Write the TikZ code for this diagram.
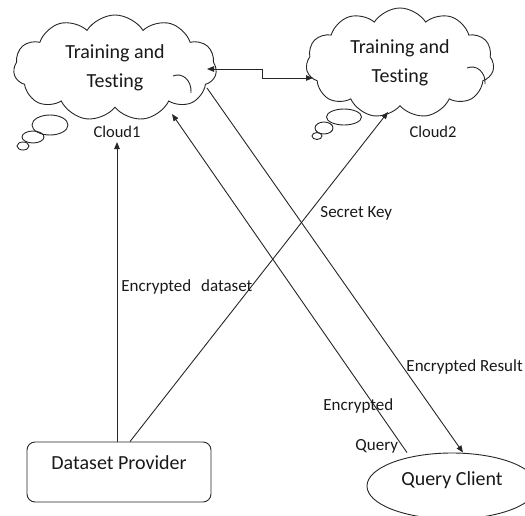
\documentclass[tikz,border=0pt]{standalone}
\usepackage{fontspec}
\setmainfont{Carlito}[Ligatures=NoCommon]
\usetikzlibrary{shapes.symbols,shapes.geometric,arrows.meta,calc}
\begin{document}
\begin{tikzpicture}[x=1pt,y=-1pt,
  line width=0.9pt, draw=black!85,
  arr/.style={-{Triangle[length=7pt,width=5.5pt]}},
  darr/.style={{Triangle[length=7pt,width=5.5pt]}-{Triangle[length=7pt,width=5.5pt]}},
  cloudnode/.style={cloud, draw, cloud puffs=11, cloud puff arc=115, cloud ignores aspect, inner sep=0pt, font=\fontsize{20}{29}\selectfont, align=center, text=black!90},
  bubble/.style={draw, ellipse, inner sep=0pt},
  innerarc/.style={draw, line width=0.9pt},
  lbl/.style={font=\fontsize{17}{20}\selectfont, inner sep=0pt, anchor=west, text=black!90},
  bigfont/.style={font=\fontsize{20}{24}\selectfont, text=black!90}
]
\useasboundingbox (0,0) rectangle (525,515);

% clouds
\node[cloudnode, minimum width=203pt, minimum height=106pt] (c1) at (115,68) {Training and\\Testing};
\node[cloudnode, minimum width=188pt, minimum height=110pt] (c2) at (400,63) {Training and\\Testing};

% inner fold lines of the clouds
\path[innerarc] (173,76) .. controls (182,72) and (192,80) .. (191,93);
\path[innerarc] (467,68) .. controls (476,64) and (486,72) .. (485,84);

% thought bubbles
\node[bubble, minimum width=36pt, minimum height=20pt] (b11) at (50,125) {};
\node[bubble, minimum width=22pt, minimum height=12pt] (b12) at (33,137) {};
\node[bubble, minimum width=12pt, minimum height=8pt] (b13) at (23,146) {};
\node[bubble, minimum width=35pt, minimum height=16pt] (b21) at (344,117) {};
\node[bubble, minimum width=18pt, minimum height=12pt] (b22) at (324,128) {};
\node[bubble, minimum width=10pt, minimum height=7pt] (b23) at (317,136) {};

% cloud captions
\node[lbl, anchor=center, font=\fontsize{16.5}{20}\selectfont] (cl1) at (117,132) {Cloud1};
\node[lbl, anchor=center, font=\fontsize{16.5}{20}\selectfont] (cl2) at (433,132) {Cloud2};

% bottom nodes
\node[draw, rounded corners=8pt, minimum width=184pt, minimum height=60pt, bigfont, text height=13pt, text depth=19pt] (dp) at (119,472) {Dataset Provider};
\node[draw, ellipse, minimum width=170pt, minimum height=66pt, bigfont, text height=13pt, text depth=14pt] (qc) at (452,486) {Query Client};

% connector end points on the clouds
\coordinate (c1east) at (207,69);
\coordinate (c2west) at (313,78);
\coordinate (c1bot) at (117,142);
\coordinate (c2bot) at (388,112);
\coordinate (c1q) at (172,114);
\coordinate (c1r) at (207,88);

% connectors
\draw[darr] (c1east) -- ++(55,0) |- (c2west);
\draw[arr] (dp.north -| c1bot) -- (c1bot);
\draw[arr] ($(dp.north)+(11,0)$) -- (c2bot);
\draw[arr] ($(qc.north)+(-45,0)$) -- (c1q);
\draw[arr] (c1r) -- ($(qc.north)+(11,0)$);

% connector labels
\node[lbl] (led) at (121,287) {Encrypted\hspace{6pt} dataset};
\node[lbl] (lsk) at (320,213) {Secret Key};
\node[lbl] (ler) at (406,367) {Encrypted Result};
\node[lbl] (leq1) at (323,406) {Encrypted};
\node[lbl] (leq2) at (355,446) {Query};
\end{tikzpicture}
\end{document}
